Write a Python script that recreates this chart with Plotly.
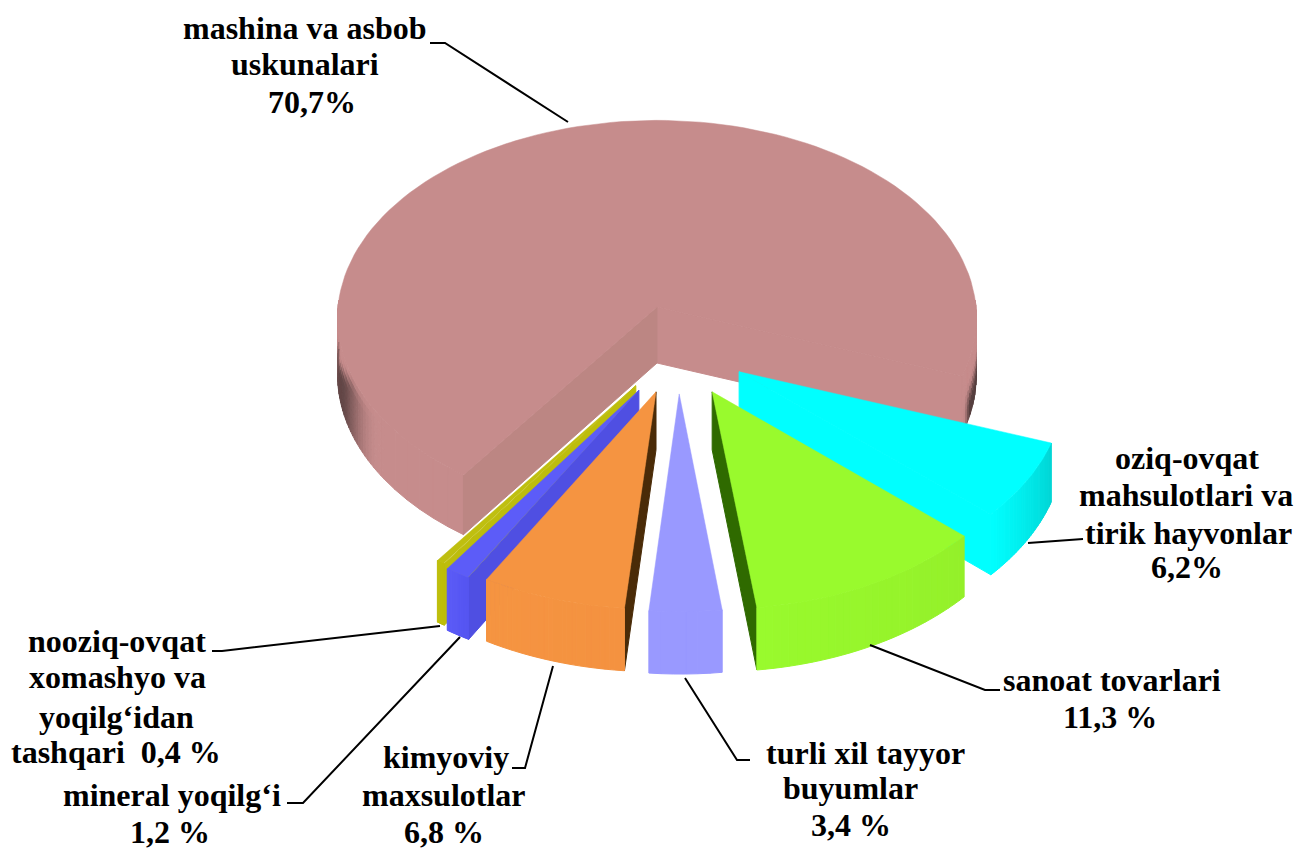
import math
import plotly.graph_objects as go

# --- data -------------------------------------------------------------
categories = ["mashina va asbob uskunalari", "oziq-ovqat mahsulotlari va tirik hayvonlar",
              "sanoat tovarlari", "turli xil tayyor buyumlar", "kimyoviy maxsulotlar",
              "mineral yoqilg‘i", "nooziq-ovqat xomashyo va yoqilg‘idan tashqari"]
values = [70.7, 6.2, 11.3, 3.4, 6.8, 1.2, 0.4]

# --- styles / geometry ------------------------------------------------
START = 215.5            # clockwise from "up", first slice start
CX, CY, RX, RY = 657, 307, 319, 197.5
KX, KY = 0.055, 0.055    # perspective
DEPTH, KD = 56, 0.08
EXPLODE = [(0, 0), (0.253, 0.322), (0.169, 0.42), (0.068, 0.43),
           (-0.003, 0.42), (-0.0555, 0.412), (-0.065, 0.39)]
TOP = ["#C68C8C", "#00FFFF", "#99FA2D", "#9999FF", "#F59441", "#5C5CF8", "#BFBF10"]
SIDE = ["#C08888", "#00D4D4", "#94F02A", "#9999FF", "#F49240", "#5555F0", "#BDBD0C"]
CUT = ["#BC8683", "#00FFFF", "#2F6A00", None, "#4A2B08", "#4F4FE2", "#BDBD0C"]
DRAW_ORDER = [0, 1, 2, 6, 5, 4, 3]
DARK = "#4A3636"

FONT = dict(family="Liberation Serif", size=32, color="black")
TEXT_LINES = [
    ("mashina va asbob", 305, 28), ("uskunalari", 305, 64), ("70,7%", 312, 102),
    ("oziq-ovqat", 1187, 458), ("mahsulotlari va", 1186, 495), ("tirik hayvonlar", 1188, 533), ("6,2%", 1187, 567),
    ("sanoat tovarlari", 1112, 680), ("11,3 %", 1110, 717),
    ("turli xil tayyor", 865, 753), ("buyumlar", 850, 788), ("3,4 %", 851, 825),
    ("kimyoviy", 446, 757), ("maxsulotlar", 444, 795), ("6,8 %", 444, 832),
    ("mineral yoqilg‘i", 172, 795), ("1,2 %", 170, 832),
    ("nooziq-ovqat", 117, 641), ("xomashyo va", 117, 677), ("yoqilg‘idan", 116, 717), ("tashqari  0,4 %", 116, 752),
]
LEADERS = [
    [(430, 43), (445, 43), (568, 122)],
    [(1028, 543), (1083, 539)],
    [(870, 645), (985, 690), (1000, 690)],
    [(685, 678), (737, 760), (750, 760)],
    [(553, 666), (525, 768), (512, 768)],
    [(460, 637), (303, 803), (287, 803)],
    [(440, 626), (222, 651), (212, 651)],
]


def project(i, phi, r, down=0.0):
    u0, v0 = EXPLODE[i]
    a = math.radians(phi)
    u = u0 + r * math.sin(a)
    v = v0 - r * math.cos(a)
    x = CX + RX * u * (1 + KX * v)
    y = CY + RY * v * (1 + KY * v) + down * DEPTH * (1 + KD * v)
    return x, y


def poly(fig, pts, color, width=1.0):
    xs = [p[0] for p in pts] + [pts[0][0]]
    ys = [p[1] for p in pts] + [pts[0][1]]
    fig.add_trace(go.Scatter(x=xs, y=ys, mode="lines", fill="toself", fillcolor=color,
                             line=dict(color=color, width=width), hoverinfo="skip", showlegend=False))


def mix(c1, c2, t):
    t = max(0.0, min(1.0, t))
    a = [int(c1[j:j + 2], 16) for j in (1, 3, 5)]
    b = [int(c2[j:j + 2], 16) for j in (1, 3, 5)]
    return "#%02X%02X%02X" % tuple(round(a[k] + (b[k] - a[k]) * t) for k in range(3))


def smooth(e0, e1, t):
    if e1 <= e0:
        return 1.0 if t >= e0 else 0.0
    s = max(0.0, min(1.0, (t - e0) / (e1 - e0)))
    return s * s * (3 - 2 * s)


def arc(p0, p1, n):
    return [p0 + (p1 - p0) * k / n for k in range(n + 1)]


def wall(fig, i, p0, p1, colorfn, n=24):
    ph = arc(p0, p1, n)
    for a, b in zip(ph[:-1], ph[1:]):
        poly(fig, [project(i, a, 1), project(i, b, 1), project(i, b, 1, 1), project(i, a, 1, 1)],
             colorfn(0.5 * (a + b)))


def wall_cells(fig, i, p0, p1, colorfn, n, m=8):
    """Outer wall shaded in both directions (around the rim and downwards)."""
    ph = arc(p0, p1, n)
    for a, b in zip(ph[:-1], ph[1:]):
        for k in range(m):
            t0, t1 = k / m, (k + 1) / m
            poly(fig, [project(i, a, 1, t0), project(i, b, 1, t0), project(i, b, 1, t1), project(i, a, 1, t1)],
                 colorfn(0.5 * (a + b), 0.5 * (t0 + t1)))


def cutwall(fig, i, phi, color):
    poly(fig, [project(i, phi, 0), project(i, phi, 1), project(i, phi, 1, 1), project(i, phi, 0, 1)], color)


def left_shade(p, t):
    f = smooth(238, 258, p) * (1 - 0.25 * smooth(262, 272, p))
    t0 = max(0.0, (p - 250) / 20 * 0.65)
    return mix(TOP[0], DARK, 0.8 * f * smooth(t0 - 0.05, t0 + 0.3, t))


def right_shade(p, t):
    f = smooth(90, 94, p) * (1 - smooth(105, 110, p))
    return mix(TOP[0], DARK, 0.9 * f * smooth(0.35, 0.85, t))


# slice angles derived from the values
spans = []
a0 = START
for val in values:
    a1 = a0 + val / sum(values) * 360
    spans.append((a0, a1))
    a0 = a1

fig = go.Figure()
for i in DRAW_ORDER:
    p0, p1 = spans[i]
    if i == 0:
        wall(fig, i, p0, 236, lambda p: TOP[0], n=6)
        wall_cells(fig, i, 236, 272, left_shade, n=30)
        wall_cells(fig, i, 88, p1 - 360, right_shade, n=16)
        cutwall(fig, i, p1, TOP[0])
        cutwall(fig, i, p0, CUT[0])
    elif i == 3:
        wall(fig, i, p0, p1, lambda p: SIDE[i], n=6)
    else:
        if i in (1, 2):
            cutwall(fig, i, p1, CUT[i])
        if i in (4, 5, 6):
            cutwall(fig, i, p0, CUT[i])
        wall(fig, i, p0, p1, (lambda ii: lambda p: (
            mix(SIDE[ii], TOP[ii], (p - spans[ii][0]) / (spans[ii][1] - spans[ii][0]))))(i), n=30)
    ph = arc(p0, p1, 120 if i == 0 else 30)
    poly(fig, [project(i, p0, 0)] + [project(i, a, 1) for a in ph], TOP[i], width=0.5)

for pts in LEADERS:
    fig.add_trace(go.Scatter(x=[p[0] for p in pts], y=[p[1] for p in pts], mode="lines",
                             line=dict(color="black", width=2), hoverinfo="skip", showlegend=False))

for txt, x, y in TEXT_LINES:
    fig.add_annotation(x=x, y=y, text="<b>%s</b>" % txt.replace("  ", "&nbsp; "), showarrow=False,
                       xanchor="center", yanchor="middle", font=FONT)

fig.update_layout(width=1299, height=850, margin=dict(l=0, r=0, t=0, b=0),
                  paper_bgcolor="white", plot_bgcolor="white", showlegend=False,
                  xaxis=dict(range=[0, 1299], visible=False, fixedrange=True),
                  yaxis=dict(range=[850, 0], visible=False, fixedrange=True))
fig.write_html("out.html", config=dict(displayModeBar=False),
               post_script="document.body.style.margin='0';document.body.style.overflow='hidden';")
